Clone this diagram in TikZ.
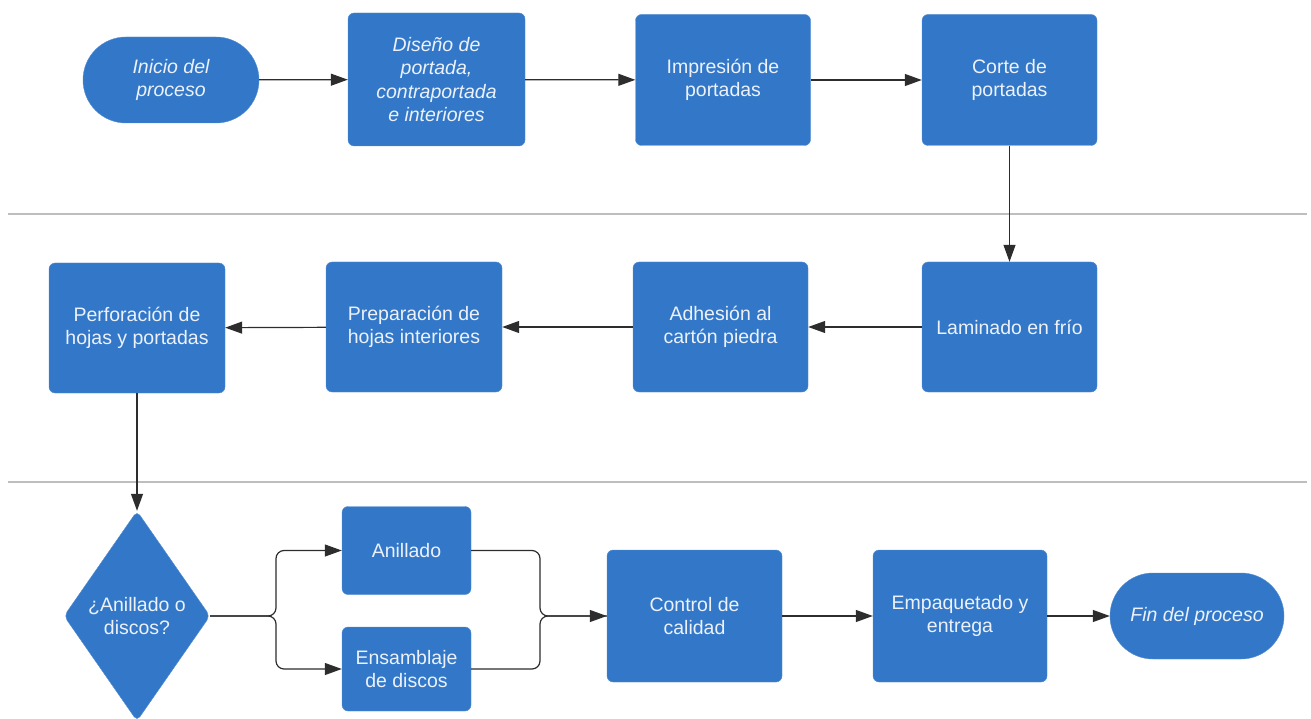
\documentclass[tikz,border=0pt]{standalone}
\usepackage{fontspec}
\setmainfont{Liberation Sans}
\usetikzlibrary{shapes.geometric,arrows.meta}
\definecolor{azulcaja}{RGB}{51,120,200}
\definecolor{textocaja}{RGB}{236,241,250}
\definecolor{linea}{RGB}{45,45,45}
\definecolor{separador}{RGB}{190,190,190}

\begin{document}
\begin{tikzpicture}[x=1pt,y=-1pt,
    caja/.style={draw=azulcaja!85!white, fill=azulcaja, rounded corners=6pt,
        text=textocaja, align=center, inner sep=0pt,
        font=\fontsize{19.5}{23.5}\selectfont},
    proceso/.style={caja, minimum width=175pt, minimum height=131pt},
    terminal/.style={caja, rounded corners=43pt, minimum width=176pt,
        minimum height=86pt, font=\fontsize{19.5}{23.5}\selectfont\itshape},
    decision/.style={caja, shape=diamond, rounded corners=5pt,
        minimum width=146pt, minimum height=210pt},
    flecha/.style={draw=linea, line width=1.2pt, -{Triangle[length=17pt,width=12pt]}},
    conector/.style={draw=linea, line width=1.2pt, rounded corners=8pt}]
        \useasboundingbox (0,0) rectangle (1311,719);
        % Separadores
        \draw[separador, line width=2pt] (8,214) -- (1307,214);
        \draw[separador, line width=2pt] (8,482) -- (1307,482);
        % Fila 1
        \node[terminal] (inicio) at (171,80) {Inicio del\\proceso};
        \node[proceso, minimum width=177pt, minimum height=133pt,
            font=\fontsize{19.5}{23.5}\selectfont\itshape] (diseno) at (436.5,79.5)
            {Diseño de\\portada,\\contraportada\\e interiores};
        \node[proceso] (impresion) at (723,80) {Impresión de\\portadas};
        \node[proceso] (corte) at (1009.5,80) {Corte de\\portadas};
        % Fila 2
        \node[proceso, minimum height=130pt] (laminado) at (1009.5,327) {Laminado en frío};
        \node[proceso, minimum height=130pt] (adhesion) at (720.5,327) {Adhesión al\\cartón piedra};
        \node[proceso, minimum width=176pt, minimum height=130pt] (preparacion) at (414,327)
            {Preparación de\\hojas interiores};
        \node[proceso, minimum width=176pt, minimum height=130pt] (perforacion) at (137,328)
            {Perforación de\\hojas y portadas};
        % Fila 3
        \node[decision] (eleccion) at (137,616) {¿Anillado o\\discos?};
        \node[caja, minimum width=129pt, minimum height=88pt] (anillado) at (406.5,550.5) {Anillado};
        \node[caja, minimum width=129pt, minimum height=84pt] (ensamblaje) at (406.5,669)
            {Ensamblaje\\de discos};
        \node[proceso, minimum height=132pt] (control) at (694.5,616) {Control de\\calidad};
        \node[proceso, minimum width=174pt, minimum height=132pt] (empaquetado) at (960,616)
            {Empaquetado y\\entrega};
        \node[terminal, minimum width=174pt] (fin) at (1197,616) {Fin del proceso};
        \coordinate (rama) at (276,616);
        \coordinate (union) at (540,616);
        % Flechas
        \draw[flecha] (inicio) -- (diseno);
        \draw[flecha] (diseno) -- (impresion);
        \draw[flecha] (impresion) -- (corte);
        \draw[flecha] (corte) -- (laminado);
        \draw[flecha] (laminado) -- (adhesion);
        \draw[flecha] (adhesion) -- (preparacion);
        \draw[flecha] (preparacion) -- (perforacion);
        \draw[flecha] (perforacion) -- (eleccion);
        \draw[conector, flecha] (eleccion.east) -- (rama) |- (anillado.west);
        \draw[conector, flecha] (eleccion.east) -- (rama) |- (ensamblaje.west);
        \draw[conector] (anillado.east) -| (union) -- (control.west);
        \draw[conector, flecha] (ensamblaje.east) -| (union) -- (control.west);
        \draw[flecha] (control) -- (empaquetado);
        \draw[flecha] (empaquetado) -- (fin);
    \end{tikzpicture}
\end{document}
